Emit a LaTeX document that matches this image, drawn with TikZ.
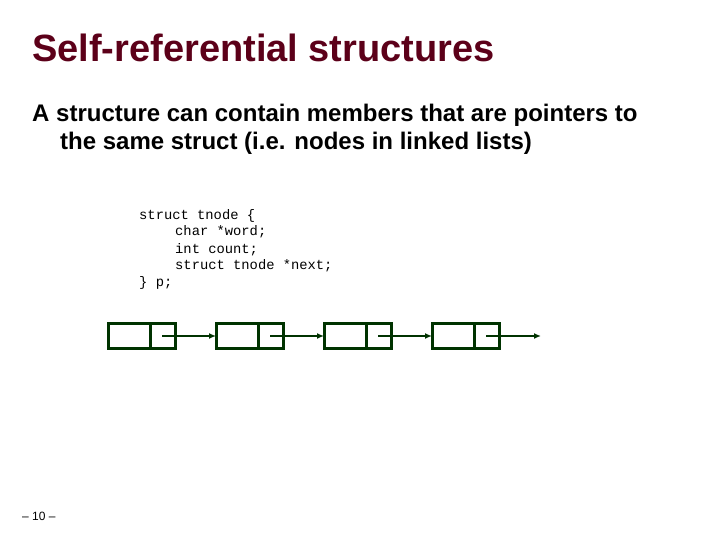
\documentclass[tikz,border=0pt]{standalone}
\usepackage{fontspec}
\usetikzlibrary{arrows.meta}
\setmainfont{Liberation Sans}
\newfontfamily\cour{Liberation Mono}
\begin{document}
\begin{tikzpicture}[x=1pt,y=-1pt,
  cell/.style={draw=green!20!black,line width=3pt},
  link/.style={draw=green!20!black,line width=1.8pt,-{Latex[length=7pt,width=6pt]}},
  code/.style={anchor=base west,inner sep=0pt,font=\cour\fontsize{13.8}{16}\selectfont}]
\useasboundingbox (0,0) rectangle (720,540);
\node[anchor=base west,inner sep=0pt,text=red!40!black!90!blue,font=\bfseries\fontsize{38}{44}\selectfont] (title) at (32,62) {Self-referential structures};
\node[anchor=base west,inner sep=0pt,font=\bfseries\fontsize{24}{28}\selectfont] (l1) at (32,122) {A structure can contain members that are pointers to};
\node[anchor=base west,inner sep=0pt,font=\bfseries\fontsize{24}{28}\selectfont] (l2) at (60,150) {the same struct (i.e. nodes in linked lists)};
\node[code] (c1) at (139,219) {struct tnode \{};
\node[code] (c2) at (175,236) {char *word;};
\node[code] (c3) at (175,253) {int count;};
\node[code] (c4) at (175,269) {struct tnode *next;};
\node[code] (c5) at (139,286) {\} p;};
\foreach \i/\x in {1/108,2/216,3/324,4/432}{
  \draw[cell] (\x,323) rectangle (\x+67,348);
  \draw[cell] (\x+42,323) -- (\x+42,348);
  \coordinate (s\i) at (\x+54,336);
  \coordinate (e\i) at (\x,336);
}
\coordinate (e5) at (541,336);
\foreach \i/\j in {1/2,2/3,3/4,4/5}{\draw[link] (s\i) -- (e\j);}
\node[anchor=base west,inner sep=0pt,font=\fontsize{12}{14}\selectfont] (pg) at (22,520) {– 10 –};
\end{tikzpicture}
\end{document}
